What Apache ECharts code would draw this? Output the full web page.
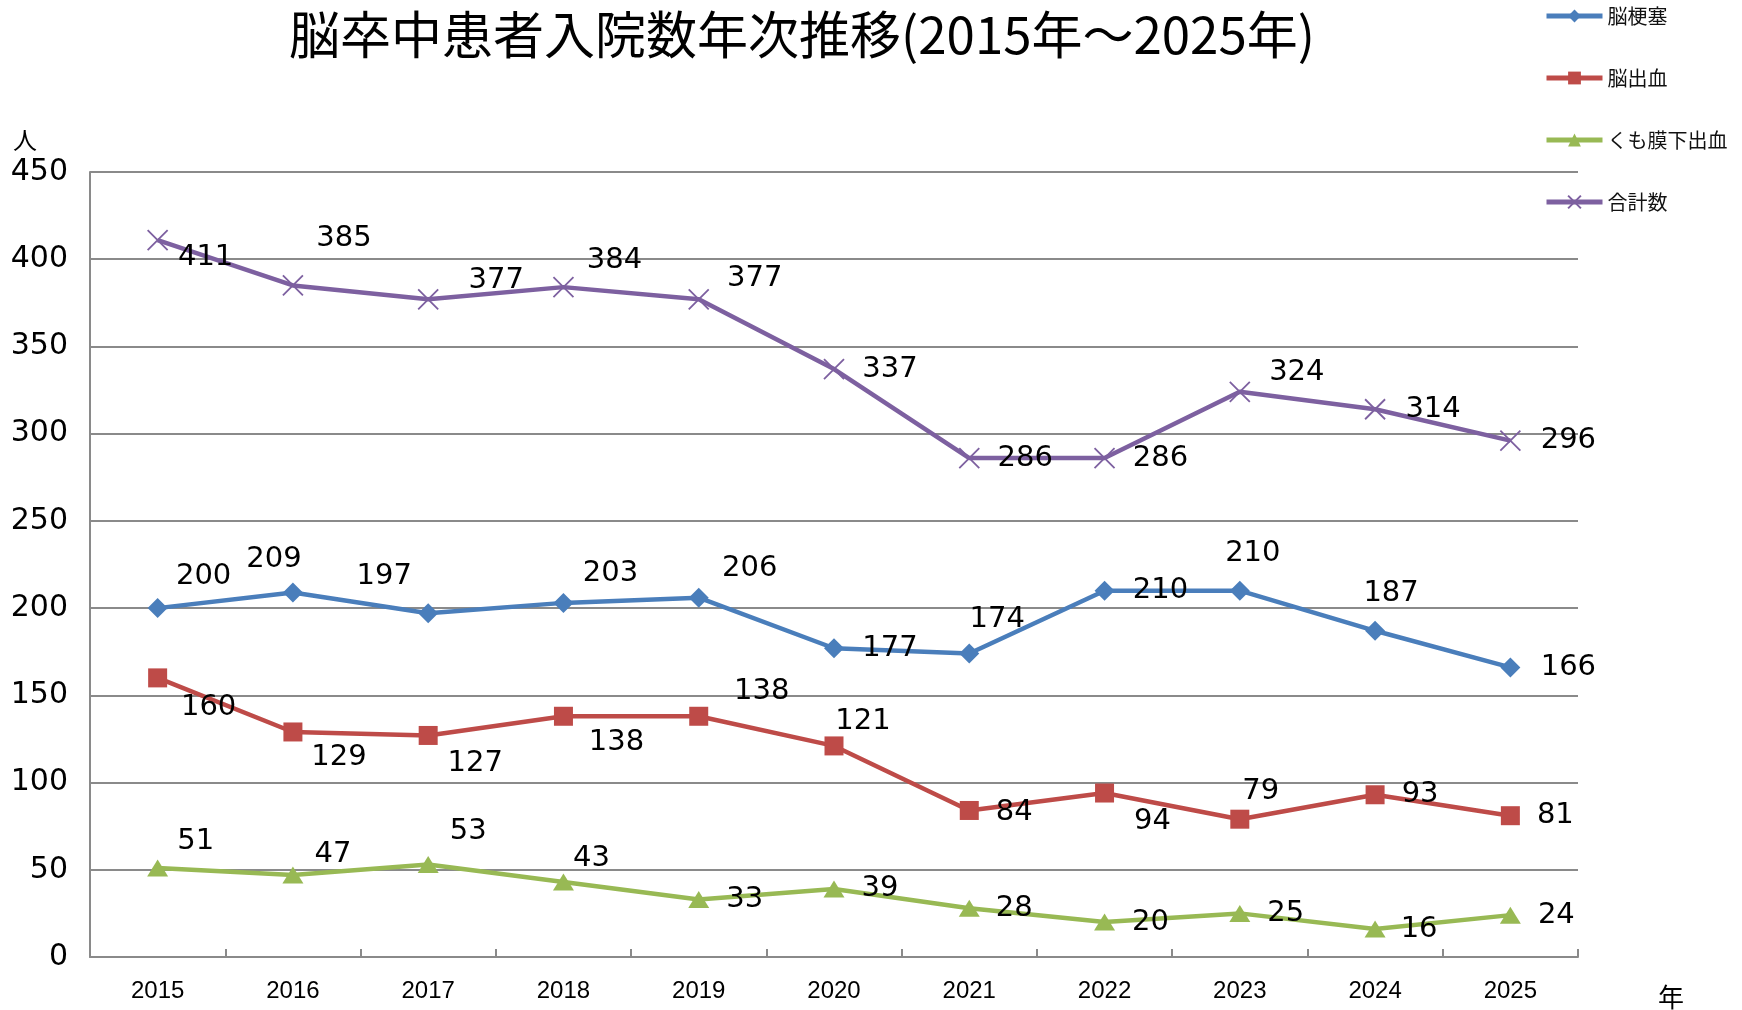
<!DOCTYPE html>
<html>
<head>
<meta charset="utf-8">
<title>脳卒中患者入院数年次推移</title>
<script src="https://cdn.jsdelivr.net/npm/echarts@6/dist/echarts.min.js"></script>
<style>
  html, body { margin: 0; padding: 0; background: #fff; }
  #main { width: 1742px; height: 1010px; }
</style>
</head>
<body>
<div id="main"></div>
<script>
// values
var years = ['2015', '2016', '2017', '2018', '2019', '2020', '2021', '2022', '2023', '2024', '2025'];
var infarction = [200, 209, 197, 203, 206, 177, 174, 210, 210, 187, 166];   // 脳梗塞
var hemorrhage = [160, 129, 127, 138, 138, 121, 84, 94, 79, 93, 81];        // 脳出血
var subarachnoid = [51, 47, 53, 43, 33, 39, 28, 20, 25, 16, 24];           // くも膜下出血
var totals = [411, 385, 377, 384, 377, 337, 286, 286, 324, 314, 296];       // 合計数
var yTicks = { min: 0, max: 450, step: 50 };

// where each data label sits relative to its point (px)
var infarctionShift = [[46, -32], [-19, -33], [-44, -37], [47, -29], [51, -29], [56, 0], [28, -34], [56, 0], [13, -37], [16, -37], [58, 0]];
var hemorrhageShift = [[51, 30], [46, 26], [47, 28], [53, 26], [63, -25], [29, -24], [45, 2], [48, 28], [21, -28], [45, 0], [45, 0]];
var subarachnoidShift = [[38, -27], [40, -21], [40, -33], [28, -24], [46, 0], [46, 0], [45, 0], [46, 0], [46, 0], [44, 0], [46, 0]];
var totalShift = [[48, 17], [51, -47], [68, -19], [51, -27], [56, -21], [56, 0], [56, 0], [56, 0], [57, -19], [58, 0], [58, 0]];

var numFont = 'DejaVu Sans';
var jpFont = '"Noto Sans CJK JP"';
var gridGray = '#8a8a8a';

function withLabels(values, shifts) {
    return values.map(function (v, i) {
        return { value: v, label: { offset: shifts[i] } };
    });
}

function lineSeries(name, values, shifts, color, symbol, size, extra) {
    var s = {
        name: name,
        type: 'line',
        data: withLabels(values, shifts),
        symbol: symbol,
        symbolSize: size,
        showAllSymbol: true,
        lineStyle: { color: color, width: 4.5 },
        itemStyle: { color: color },
        label: {
            show: true,
            position: 'inside',
            color: '#000',
            fontFamily: numFont,
            fontSize: 29
        },
        emphasis: { disabled: true },
        animation: false
    };
    if (extra) {
        s.itemStyle = extra;
    }
    return s;
}

var chart = echarts.init(document.getElementById('main'));

var option = {
    backgroundColor: '#fff',
    title: {
        text: '脳卒中患者入院数年次推移(2015年～2025年)',
        left: 797,
        top: 4,
        textAlign: 'center',
        textStyle: { fontFamily: jpFont, fontSize: 51, fontWeight: 'normal', color: '#000' }
    },
    legend: {
        orient: 'vertical',
        left: 1544,
        top: 5,
        padding: 0,
        itemWidth: 56,
        itemHeight: 16,
        itemGap: 40,
        lineStyle: { width: 5 },
        textStyle: { fontFamily: jpFont, fontSize: 20, lineHeight: 22, color: '#111' },
        data: ['脳梗塞', '脳出血', 'くも膜下出血', '合計数']
    },
    grid: { left: 90, right: 164, top: 172, bottom: 53, containLabel: false },
    xAxis: {
        type: 'category',
        data: years,
        boundaryGap: true,
        axisLine: { lineStyle: { color: gridGray, width: 2 } },
        axisTick: { show: true, inside: true, length: 8, interval: 0, lineStyle: { color: gridGray, width: 2 } },
        axisLabel: { interval: 0, margin: 22, color: '#000', fontFamily: 'Liberation Sans', fontSize: 24 },
        splitLine: { show: false }
    },
    yAxis: {
        type: 'value',
        min: yTicks.min,
        max: yTicks.max,
        interval: yTicks.step,
        axisLine: { show: true, lineStyle: { color: gridGray, width: 2 } },
        axisTick: { show: false },
        axisLabel: { margin: 22, color: '#000', fontFamily: numFont, fontSize: 30 },
        splitLine: { lineStyle: { color: gridGray, width: 2 } }
    },
    graphic: [
        { type: 'text', left: 13, top: 128, style: { text: '人', font: '24px ' + jpFont, fill: '#000' } },
        { type: 'text', left: 1658, top: 984, style: { text: '年', font: '26px ' + jpFont, fill: '#000' } }
    ],
    series: [
        lineSeries('脳梗塞', infarction, infarctionShift, '#4a7ebb', 'diamond', 20),
        lineSeries('脳出血', hemorrhage, hemorrhageShift, '#be4b48', 'rect', 19),
        lineSeries('くも膜下出血', subarachnoid, subarachnoidShift, '#98b954', 'triangle', [21, 17]),
        lineSeries('合計数', totals, totalShift, '#7d60a0', 'path://M0,0L10,10M10,0L0,10', 20,
            { color: '#7d60a0', borderColor: '#7d60a0', borderWidth: 1.8 })
    ]
};

chart.setOption(option);
</script>
</body>
</html>
